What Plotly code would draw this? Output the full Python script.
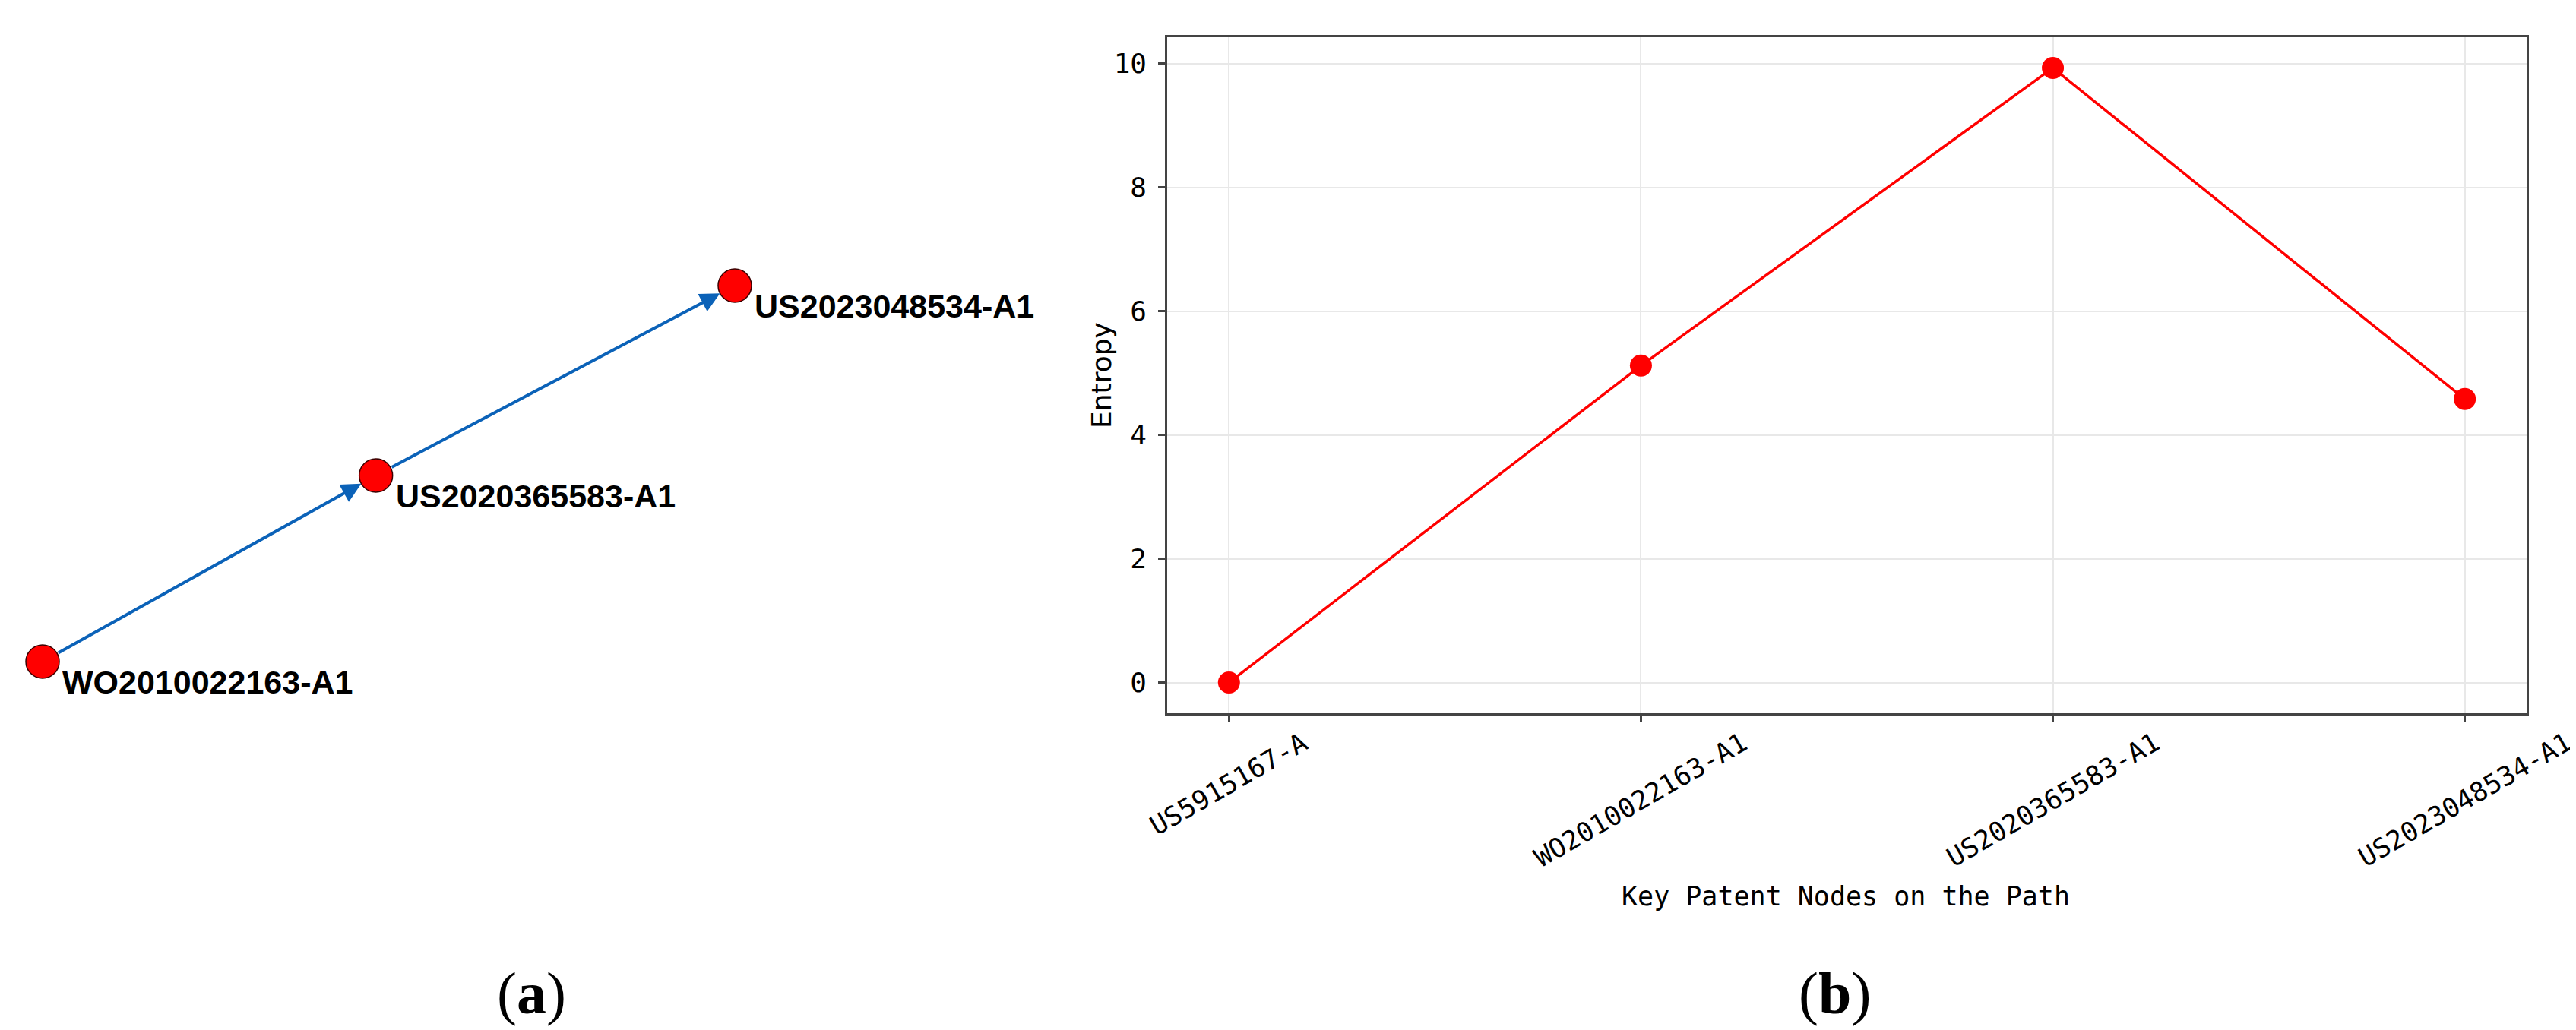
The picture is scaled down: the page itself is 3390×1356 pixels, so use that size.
import plotly.graph_objects as go

# (a) key patent path, node positions from the graph layout
path_nodes = ["WO2010022163-A1", "US2020365583-A1", "US2023048534-A1"]
node_x = [-1.0, -0.037, 1.0]
node_y = [-1.0, -0.01, 1.0]
edges = [(0, 1), (1, 2)]

# (b) entropy of the key patent nodes
patents = ["US5915167-A", "WO2010022163-A1", "US2020365583-A1", "US2023048534-A1"]
entropy = [0.0, 5.12, 9.93, 4.58]

W, H = 3390, 1356
MONO = "DejaVu Sans Mono"


def px_x(p):
    return p / W


def px_y(p):
    return 1 - p / H


axis_style = dict(
    showline=True, linecolor="#444", linewidth=2.5, mirror=True,
    ticks="outside", ticklen=9, tickwidth=2.5, tickcolor="#444",
    showgrid=True, gridcolor="#e8e8e8", gridwidth=2, zeroline=False,
)

fig = go.Figure()

fig.add_trace(go.Scatter(
    x=patents, y=entropy, mode="lines+markers",
    line=dict(color="red", width=3.5),
    marker=dict(color="red", size=29),
    xaxis="x", yaxis="y",
))

fig.add_trace(go.Scatter(
    x=node_x, y=node_y, mode="markers",
    marker=dict(color="red", size=44, line=dict(color="#3a0000", width=1.5)),
    xaxis="x2", yaxis="y2",
))

annotations = []

# arrows of the path
for s, t in edges:
    annotations.append(dict(
        x=node_x[t], y=node_y[t], ax=node_x[s], ay=node_y[s],
        xref="x2", yref="y2", axref="x2", ayref="y2",
        text="", showarrow=True, arrowhead=2, arrowsize=1.3, arrowwidth=4,
        arrowcolor="#0b62b8", standoff=22, startstandoff=22,
    ))

# node labels
for name, x, y in zip(path_nodes, node_x, node_y):
    annotations.append(dict(
        x=x, y=y, xref="x2", yref="y2", text="<b>%s</b>" % name,
        showarrow=False, xanchor="left", yanchor="middle",
        xshift=24, yshift=-27,
        font=dict(family="Liberation Sans", size=43, color="black"),
    ))

# rotated x tick labels, centred on the ticks
for name in patents:
    annotations.append(dict(
        x=name, y=px_y(946), xref="x", yref="paper", text=name,
        showarrow=False, xanchor="center", yanchor="top", textangle=-30,
        font=dict(family=MONO, size=35, color="black"),
    ))

# axis titles and panel letters
text_items = [
    ("Key Patent Nodes on the Path", 2421, 1172, 0, dict(family=MONO, size=35)),
    ("Entropy", 1441, 486, -90, dict(family="DejaVu Sans", size=36)),
    ("(<b>a</b>)", 691, 1299, 0, dict(family="Liberation Serif", size=78)),
    ("(<b>b</b>)", 2406, 1299, 0, dict(family="Liberation Serif", size=78)),
]
for text, x, y, angle, font in text_items:
    annotations.append(dict(
        x=px_x(x), y=px_y(y), xref="paper", yref="paper", text=text,
        showarrow=False, xanchor="center", yanchor="middle", textangle=angle,
        font=dict(color="black", **font),
    ))

fig.update_layout(
    width=W, height=H,
    margin=dict(l=0, r=0, t=0, b=0),
    paper_bgcolor="white", plot_bgcolor="white",
    showlegend=False,
    xaxis=dict(**axis_style, domain=[px_x(1528), px_x(3317)], anchor="y",
               type="category", categoryorder="array", categoryarray=patents,
               range=[-0.15, 3.15], showticklabels=False),
    yaxis=dict(**axis_style, domain=[px_y(931), px_y(41)], anchor="x",
               range=[-0.4965, 10.4265], tick0=0, dtick=2,
               ticklabelstandoff=8,
               tickfont=dict(family=MONO, size=36, color="black")),
    xaxis2=dict(domain=[0, 0.4], range=[-1.1054, 1.8716], visible=False,
                anchor="y2"),
    yaxis2=dict(domain=[0, 1], range=[-2.992, 2.487], visible=False,
                anchor="x2"),
    annotations=annotations,
)

fig.write_html("out.html")
